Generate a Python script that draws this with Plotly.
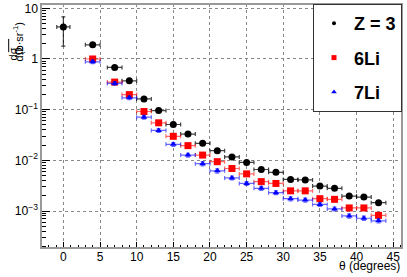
import plotly.graph_objects as go

# ---- data ----
theta_z3 = [0, 4, 7, 9, 11, 13, 15, 17, 19, 21, 23, 25, 27, 29, 31, 33, 35, 37, 39, 41, 43]
xs_z3 = [0.9] + [1] * 20
z3 = [4.3, 1.9, 0.68, 0.37, 0.163, 0.096, 0.051, 0.033, 0.0217, 0.0155, 0.0117,
      0.0091, 0.0066, 0.0058, 0.0042, 0.0041, 0.0031, 0.0028, 0.00197, 0.00188, 0.00146]
z3_err = [2.5, 0.12, 0.04, 0.02, 0.01, 0.006, 0.003, 0.002, 0.0013, 0.0009, 0.0007,
          0.0005, 0.0004, 0.00035, 0.00025, 0.00025, 0.0002, 0.00018, 0.00013, 0.00012, 0.0001]

theta_li = [4, 7, 9, 11, 13, 15, 17, 19, 21, 23, 25, 27, 29, 31, 33, 35, 37, 39, 41, 43]
xs_li = [1] * 20
li6 = [1.0, 0.35, 0.198, 0.092, 0.055, 0.0298, 0.0195, 0.0127, 0.0094, 0.0069,
       0.0054, 0.0038, 0.0035, 0.0025, 0.0025, 0.00175, 0.0017, 0.00115, 0.00115, 0.00082]
li6_err = [0.07, 0.025, 0.014, 0.007, 0.004, 0.0022, 0.0015, 0.001, 0.0007, 0.0005,
           0.0004, 0.0003, 0.00027, 0.0002, 0.0002, 0.00014, 0.00013, 0.0001, 0.0001, 0.00007]
li7 = [0.88, 0.33, 0.171, 0.071, 0.039, 0.0207, 0.0127, 0.0086, 0.0062, 0.0045,
       0.0035, 0.0028, 0.0023, 0.00175, 0.00164, 0.00135, 0.0011, 0.0008, 0.00072, 0.00064]
li7_err = [0.07, 0.027, 0.014, 0.006, 0.0035, 0.0018, 0.0011, 0.0008, 0.0006, 0.0004,
           0.0003, 0.00025, 0.0002, 0.00016, 0.00015, 0.00012, 0.0001, 0.00008, 0.00007, 0.00006]

FONT = "Liberation Sans, Arial, sans-serif"

fig = go.Figure()

def add_series(x, xe, y, ye, color, barcolor, symbol, size, name, lsize):
    fig.add_trace(go.Scatter(
        x=x, y=y, mode="markers", showlegend=False,
        marker=dict(color=color, symbol=symbol, size=size, line=dict(width=0)),
        error_x=dict(type="data", array=xe, color=barcolor, thickness=1.2, width=2),
        error_y=dict(type="data", array=ye, color=barcolor, thickness=1.2, width=2),
    ))
    fig.add_trace(go.Scatter(
        x=[None], y=[None], mode="markers", name=name, legendgroup=name,
        marker=dict(color=color, symbol=symbol, size=lsize),
    ))

add_series(theta_z3, xs_z3, z3, z3_err, "black", "rgba(0,0,0,0.75)", "circle", 7, "Z = 3", 4)
add_series(theta_li, xs_li, li6, li6_err, "red", "rgba(255,0,0,0.6)", "square", 7, "6Li", 5)
add_series(theta_li, xs_li, li7, li7_err, "blue", "rgba(0,0,255,0.6)", "triangle-up", 6, "7Li", 5)

fig.update_layout(
    width=407, height=277, autosize=False,
    margin=dict(l=41, r=5, t=4, b=29, autoexpand=False),
    paper_bgcolor="white", plot_bgcolor="white",
    font=dict(family=FONT, color="black"),
    legend=dict(
        x=1.0, y=1.0, xanchor="right", yanchor="top",
        font=dict(size=18, family=FONT, weight="bold"),
        bgcolor="white", bordercolor="#333", borderwidth=1,
        traceorder="grouped", tracegroupgap=8,
    ),
    xaxis=dict(
        range=[-3.05, 46.2], dtick=5, tick0=0, automargin=False,
        ticks="inside", ticklen=6, tickcolor="black",
        minor=dict(ticks="inside", ticklen=3, dtick=1, tickcolor="black", showgrid=False),
        showgrid=True, gridcolor="#888", griddash="dot", gridwidth=1,
        zeroline=False, showline=False,
        tickfont=dict(size=12, family=FONT),
    ),
    yaxis=dict(
        type="log", range=[-3.73, 1.085], dtick=1, exponentformat="power", automargin=False,
        ticks="inside", ticklen=9, tickcolor="black",
        minor=dict(ticks="inside", ticklen=5, tickcolor="black", showgrid=False),
        showgrid=True, gridcolor="#888", griddash="dot", gridwidth=1,
        zeroline=False, showline=True, linecolor="black", linewidth=1,
        tickfont=dict(size=9.8, family=FONT),
    ),
    shapes=[
        dict(type="rect", xref="paper", yref="paper", x0=0, x1=1, y0=0, y1=1,
             line=dict(color="#999", width=2), layer="above"),
        dict(type="line", xref="paper", yref="paper", x0=-0.0895, x1=-0.0895,
             y0=0.857, y1=0.803, line=dict(color="black", width=1)),
    ],
    annotations=[
        dict(text="θ (degrees)", xref="paper", yref="paper", x=1, y=-0.074,
             xanchor="right", yanchor="middle", showarrow=False,
             font=dict(size=12, family=FONT)),
        dict(text="dσ", xref="paper", yref="paper", x=-0.097, y=0.832,
             textangle=-90, showarrow=False, font=dict(size=11, family=FONT)),
        dict(text="dΩ", xref="paper", yref="paper", x=-0.082, y=0.832,
             textangle=-90, showarrow=False, font=dict(size=11, family=FONT)),
        dict(text="(b·sr<sup>-1</sup>)", xref="paper", yref="paper", x=-0.09,
             y=0.934, textangle=-90, showarrow=False, font=dict(size=11, family=FONT)),
    ],
)

fig.write_html("out.html", post_script="document.body.style.margin='0';",
               config={"displayModeBar": False})
